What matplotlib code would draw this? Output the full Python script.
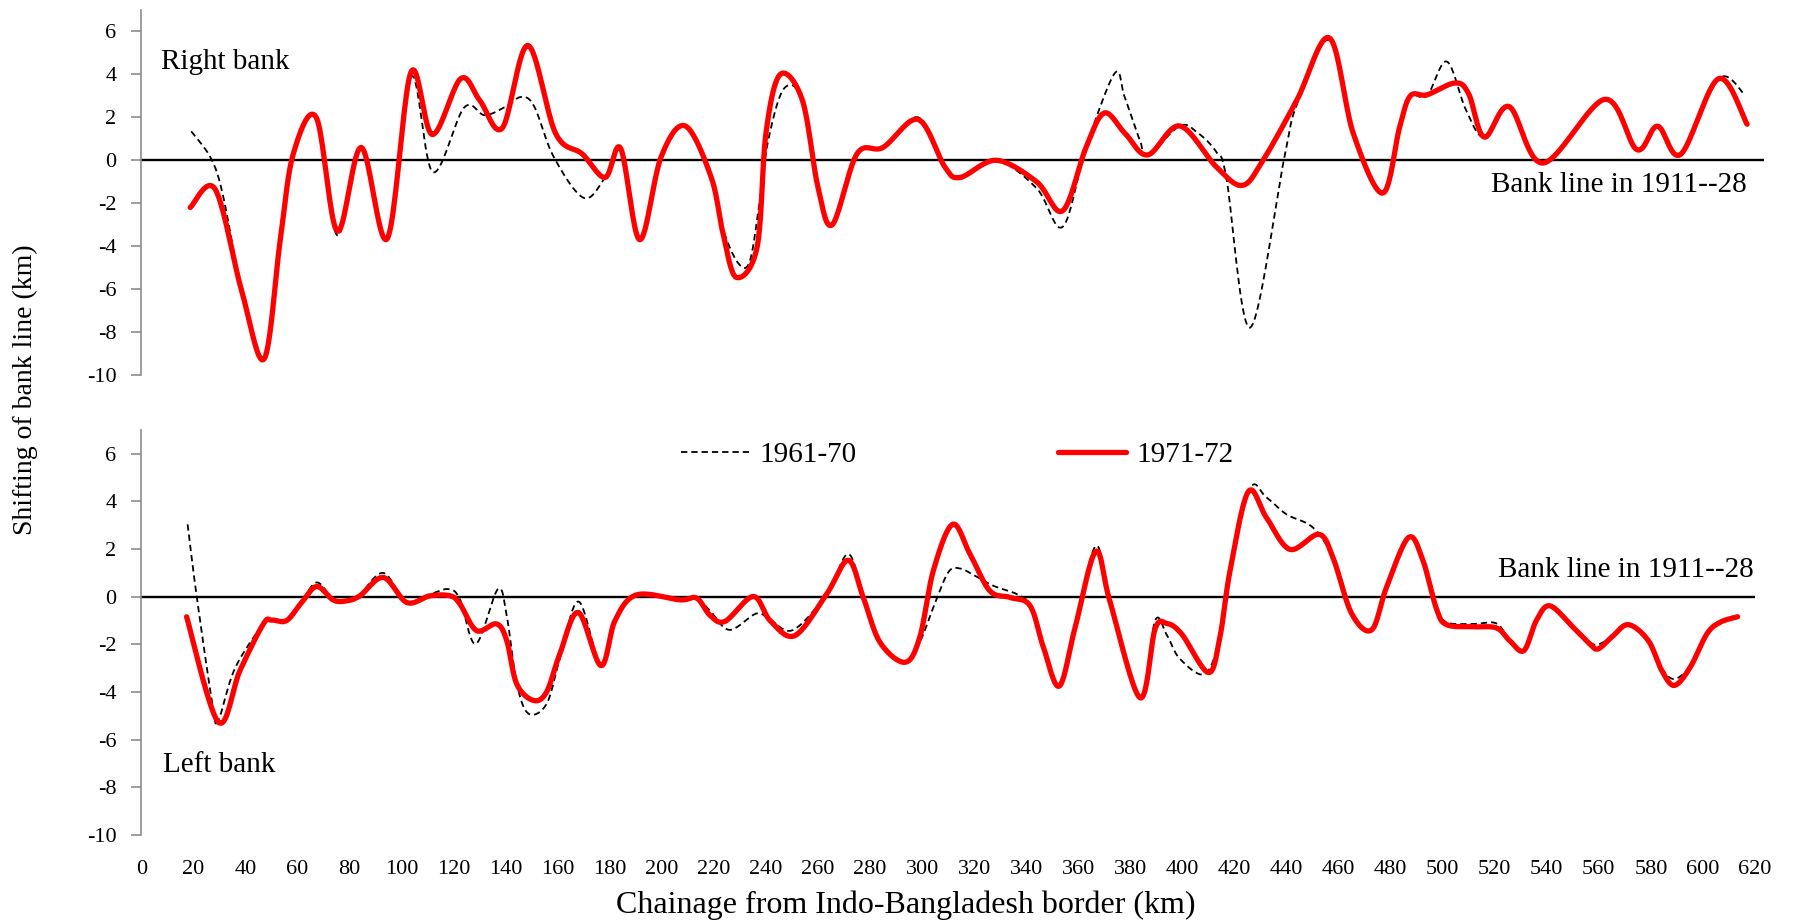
import numpy as np
import matplotlib
matplotlib.use('Agg')
import matplotlib.pyplot as plt

plt.rcParams['font.family'] = 'serif'
plt.rcParams['font.serif'] = ['Liberation Serif', 'DejaVu Serif']
plt.rcParams['axes.unicode_minus'] = False

# right bank, 1961-70 (dashed)
x_right_6170 = [19.2, 26.9, 31.5, 38.6, 47.2, 53.4, 58.4, 67.2, 75.3, 84.5, 94.5, 103.6, 112, 124, 132, 140,
                146, 151, 158.5, 170, 178.2, 184.2, 191.5, 199.7, 209, 219, 223.5, 229.4, 233.8, 237.5, 241,
                247, 254, 260, 265.5, 275, 285, 298.5, 308.7, 314.6, 328.5, 344, 354, 363, 374, 377.8, 383.7,
                386.7, 399, 405.7, 413, 416.9, 426, 439, 444, 456.5, 465.7, 477, 483.5, 487.6, 494, 501.6, 509,
                516, 525.6, 538.6, 562.3, 574.6, 582.6, 591.5, 606, 616]
right_6170 = [1.35, 0.06, -1.7, -6.1, -9.25, -3.7, 0.3, 2.0, -3.5, 0.6, -3.65, 3.9, -0.55, 2.45, 2.1, 2.5,
              2.95, 2.5, 0.15, -1.75, -0.8, 0.55, -3.7, 0.15, 1.6, -0.8, -3.2, -4.8, -4.7, -2.0, 1.0,
              3.35, 2.8, -1.25, -3.0, 0.3, 0.6, 2.0, -0.3, -0.8, 0.0, -1.3, -3.1, 0.6, 4.05, 2.96, 0.93,
              0.25, 1.6, 1.3, 0.4, -0.8, -7.8, 0.0, 2.6, 5.6, 1.25, -1.53, 1.55, 3.0, 3.0, 4.6, 2.34,
              1.08, 2.5, -0.13, 2.84, 0.5, 1.59, 0.28, 3.8, 3.07]

# right bank, 1971-72 (red)
x_right_7172 = [18.8, 28.4, 38.6, 47.2, 53.4, 58.4, 67.2, 75.3, 84.5, 94.5, 103.6, 111.8, 122.7, 130, 138.7,
                148.5, 159.2, 169.4, 178.2, 184.2, 191.5, 199.7, 209, 219, 223.5, 228.6, 236.6, 240, 245.5,
                254, 260, 265.5, 275, 285, 298.5, 308.7, 314.6, 328.5, 344, 354, 363, 370, 378, 386.7, 399,
                413, 423, 431, 444, 456.5, 465.7, 477, 483.5, 487.6, 494, 504.8, 510, 516, 525.6, 538.6,
                562.3, 574.6, 582.6, 591.5, 606, 617]
right_7172 = [-2.2, -1.35, -6.1, -9.25, -3.7, 0.3, 2.0, -3.3, 0.6, -3.65, 4.1, 1.2, 3.8, 2.8, 1.5,
              5.35, 1.25, 0.3, -0.8, 0.55, -3.7, 0.15, 1.6, -0.8, -3.4, -5.45, -4.05, 1.25, 4.0,
              2.8, -1.25, -3.0, 0.3, 0.6, 1.9, -0.3, -0.8, 0.0, -1.0, -2.35, 0.6, 2.2, 1.25, 0.25, 1.6,
              -0.3, -1.17, 0.0, 2.8, 5.7, 1.25, -1.53, 1.55, 3.0, 3.05, 3.6, 3.1, 1.08, 2.5, -0.13,
              2.84, 0.5, 1.59, 0.28, 3.8, 1.68]

# left bank, 1961-70 (dashed)
x_left_6170 = [17.8, 21.3, 27.7, 29.6, 36, 46.9, 50.1, 55.8, 61.6, 67.4, 73.8, 78.9, 84, 93, 102, 110.9,
               118, 122.4, 128.5, 137, 140.4, 144.2, 148.7, 155.7, 160.8, 168, 176.6, 182, 190.3, 207,
               213.4, 218.6, 226, 236.4, 242, 250.5, 263.3, 271.6, 277.4, 283.8, 293.4, 299.1, 304.3, 310,
               314.5, 320, 327.4, 336.4, 341.5, 346.6, 352.7, 358.8, 366.7, 372.1, 383.7, 389.5, 394, 399,
               408.6, 414.4, 418.3, 426, 432, 440, 450.2, 458, 465, 472.7, 478.4, 486.8, 492.2, 497.6,
               501.5, 511.7, 520.7, 525.8, 531.2, 536, 541.2, 550.1, 556.5, 559.7, 564.9, 571.3, 579,
               584.2, 589, 595.1, 601.5, 606.6, 613.3]
left_6170 = [3.04, 0.0, -4.77, -5.2, -3.0, -1.14, -0.98, -1.0, -0.2, 0.6, -0.1, -0.17, 0.1, 1.0, -0.24, 0.1,
             0.32, -0.1, -1.98, 0.32, -0.8, -3.6, -4.9, -4.5, -2.6, -0.2, -2.89, -1.0, 0.08, -0.13,
             -0.06, -0.6, -1.39, -0.7, -1.0, -1.39, 0.11, 1.79, 0.0, -1.91, -2.75, -1.9, -0.45, 1.02,
             1.19, 0.9, 0.46, 0.11, -0.38, -2.12, -3.72, -1.28, 2.13, -0.17, -4.2, -1.0, -1.6, -2.6,
             -3.24, -1.7, 1.09, 4.53, 4.2, 3.46, 2.9, 1.6, -0.7, -1.39, 0.39, 2.48, 1.6, -0.4,
             -1.07, -1.14, -1.12, -1.85, -2.26, -1.0, -0.38, -1.28, -1.9, -2.0, -1.7, -1.17, -1.84,
             -3.0, -3.45, -2.9, -1.56, -1.07, -0.84]

# left bank, 1971-72 (red)
x_left_7172 = [17.4, 29.6, 37.9, 46.9, 50.1, 55.8, 61.6, 67.4, 73.8, 78.9, 84, 93, 102, 110.9, 118.6, 122.4,
               128.8, 136.5, 140.4, 144.2, 150.6, 155.7, 160.8, 167.9, 176.6, 182, 190.3, 207, 213.4, 218.6,
               224.3, 235.1, 241.6, 251.1, 263.3, 271.6, 277.4, 283.8, 293.4, 299.1, 304.3, 311.7, 318.4,
               326, 333.8, 341.5, 346.6, 352.7, 358.8, 366.7, 372.1, 383.7, 389.5, 394, 399.7, 410, 414.4,
               418.3, 425.3, 432.3, 441.3, 452.5, 458, 465, 472.7, 478.4, 486.8, 492.2, 497.6, 501.5,
               511.7, 520.7, 525.8, 531.2, 536, 541.2, 550.1, 556.5, 559.7, 564.9, 571.3, 579, 584.2,
               589, 595.1, 601.5, 606.6, 613.3]
left_7172 = [-0.84, -5.26, -3.1, -1.14, -0.98, -1.0, -0.24, 0.43, -0.14, -0.17, 0.04, 0.81, -0.24, 0.04, 0.04, -0.3,
             -1.42, -1.14, -1.84, -3.65, -4.35, -4.0, -2.4, -0.66, -2.89, -1.0, 0.08, -0.13, -0.06, -0.79,
             -1.03, 0.01, -1.0, -1.63, 0.11, 1.53, -0.03, -1.91, -2.75, -1.7, 1.09, 3.04, 1.79,
             0.25, -0.03, -0.38, -2.12, -3.75, -1.28, 1.9, -0.17, -4.24, -1.35, -1.12, -1.56, -3.18, -1.7,
             1.09, 4.41, 3.32, 1.99, 2.62, 1.6, -0.7, -1.39, 0.39, 2.48, 1.6, -0.5, -1.17,
             -1.26, -1.31, -1.85, -2.26, -1.0, -0.38, -1.28, -1.98, -2.19, -1.7, -1.17, -1.84, -3.1,
             -3.72, -2.96, -1.56, -1.07, -0.84]

x_ticks = list(range(0, 621, 20))
y_ticks = list(range(-10, 7, 2))


def smooth(x, y, n=20):
    # excel-like smoothed line (catmull-rom as bezier)
    x = np.asarray(x, float)
    y = np.asarray(y, float)
    px = np.r_[x[0], x, x[-1]]
    py = np.r_[y[0], y, y[-1]]
    t = np.linspace(0, 1, n, endpoint=False)[:, None]
    xs, ys = [], []
    for i in range(1, len(px) - 2):
        p0 = np.array([px[i - 1], py[i - 1]])
        p1 = np.array([px[i], py[i]])
        p2 = np.array([px[i + 1], py[i + 1]])
        p3 = np.array([px[i + 2], py[i + 2]])
        c1 = p1 + (p2 - p0) / 6
        c2 = p2 - (p3 - p1) / 6
        pts = ((1 - t) ** 3) * p1 + 3 * ((1 - t) ** 2) * t * c1 + 3 * (1 - t) * t ** 2 * c2 + t ** 3 * p2
        xs.extend(pts[:, 0])
        ys.extend(pts[:, 1])
    xs.append(x[-1])
    ys.append(y[-1])
    return xs, ys


W, H = 1801, 922
fig = plt.figure(figsize=(W / 100, H / 100), dpi=100)
ax1 = fig.add_axes([141.3 / W, 1 - 375 / H, (1764 - 141.3) / W, 365 / H])
ax2 = fig.add_axes([141.3 / W, 1 - 835 / H, (1755 - 141.3) / W, 405 / H])

grey = '#8c8c8c'
for ax in (ax1, ax2):
    ax.set_ylim(-10, 7)
    ax.set_yticks(y_ticks)
    for s in ['top', 'right', 'bottom']:
        ax.spines[s].set_visible(False)
    ax.spines['left'].set_color(grey)
    ax.spines['left'].set_linewidth(1.2)
    ax.tick_params(axis='y', direction='out', length=7, width=1.2, color=grey, labelsize=16, pad=11)
    ax.axhline(0, color='black', lw=1.7, zorder=1)

ax1.set_xlim(0, 623.5)
ax1.set_xticks([])
ax2.set_xlim(0, 620)
ax2.set_xticks(x_ticks)
ax2.tick_params(axis='x', length=0, labelsize=16, pad=18)

sx, sy = smooth(x_right_6170, right_6170)
ax1.plot(sx, sy, color='black', lw=1.3, dashes=(3.5, 2.2), zorder=2)
sx, sy = smooth(x_right_7172, right_7172)
ax1.plot(sx, sy, color='#ff0000', lw=3.8, solid_capstyle='round', zorder=3)

sx, sy = smooth(x_left_6170, left_6170)
l1, = ax2.plot(sx, sy, color='black', lw=1.3, dashes=(3.5, 2.2), zorder=2, label='1961-70')
sx, sy = smooth(x_left_7172, left_7172)
l2, = ax2.plot(sx, sy, color='#ff0000', lw=3.8, solid_capstyle='round', zorder=3, label='1971-72')

fig.legend(handles=[l1, l2], loc='center left', bbox_to_anchor=(666 / W, 1 - 455 / H), ncol=2,
           frameon=False, fontsize=21, borderpad=0, handlelength=2.35, handletextpad=0.35,
           columnspacing=6.9)

fig.text(161 / W, 1 - 62 / H, 'Right bank', fontsize=21, va='center', ha='left')
fig.text(163 / W, 1 - 765 / H, 'Left bank', fontsize=21, va='center', ha='left')
fig.text(1747 / W, 1 - 185 / H, 'Bank line in 1911--28', fontsize=21, va='center', ha='right')
fig.text(1754 / W, 1 - 570 / H, 'Bank line in 1911--28', fontsize=21, va='center', ha='right')

fig.text(25 / W, 1 - 390 / H, 'Shifting of bank line (km)', fontsize=20, rotation=90, va='center', ha='center')
fig.text(906 / W, 1 - 905 / H, 'Chainage from Indo-Bangladesh border (km)', fontsize=23, va='center', ha='center')

fig.savefig('out.png', dpi=100)
